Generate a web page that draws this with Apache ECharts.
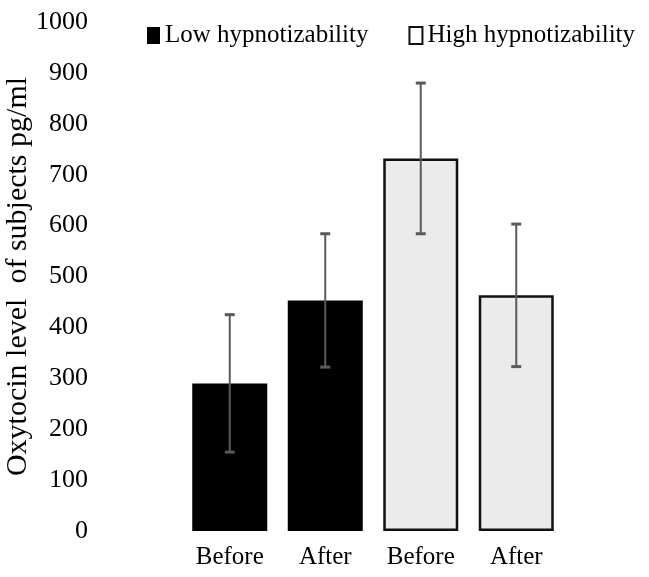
<!DOCTYPE html>
<html>
<head>
<meta charset="utf-8">
<script src="https://cdn.jsdelivr.net/npm/echarts@6/dist/echarts.min.js"></script>
<style>
  html, body { margin: 0; padding: 0; background: #fff; }
  #chart { width: 649px; height: 577px; }
</style>
</head>
<body>
<div id="chart"></div>
<script>
// Oxytocin level (pg/ml) before and after, by hypnotizability group
const categories = ['Before', 'After', 'Before', 'After'];
const lowMeans = [290, 453, null, null];
const highMeans = [null, null, 732, 463];
const means = [290, 453, 732, 463];
const errors = [135, 131, 148, 140];
const yTicks = [0, 1000, 100];

const FONT = '"Liberation Serif", "Times New Roman", serif';

const errorData = means.map((m, i) => [i, m - errors[i], m + errors[i]]);

const chart = echarts.init(document.getElementById('chart'));
chart.setOption({
  animation: false,
  backgroundColor: '#ffffff',
  grid: { left: 182, right: 85, top: 22, bottom: 46, containLabel: false, outerBoundsMode: 'none' },
  legend: {
    left: 142,
    top: 18,
    itemWidth: 13,
    itemHeight: 17,
    itemGap: 40,
    textStyle: { fontFamily: FONT, fontSize: 25, color: '#000' },
    data: [
      { name: 'Low hypnotizability', icon: 'rect', itemStyle: { color: '#000', borderWidth: 0 } },
      { name: 'High hypnotizability', icon: 'rect', itemStyle: { color: '#fff', borderColor: '#111', borderWidth: 2 } }
    ]
  },
  xAxis: {
    type: 'category',
    data: categories,
    axisLine: { show: false },
    axisTick: { show: false },
    axisLabel: { fontFamily: FONT, fontSize: 25, color: '#000', margin: 14 }
  },
  yAxis: {
    type: 'value',
    min: yTicks[0],
    max: yTicks[1],
    interval: yTicks[2],
    name: 'Oxytocin level  of subjects pg/ml',
    nameLocation: 'middle',
    nameGap: 149,
    nameMoveOverlap: false,
    nameTextStyle: { fontFamily: FONT, fontSize: 30, color: '#000' },
    axisLine: { show: false },
    axisTick: { show: false },
    splitLine: { show: false },
    axisLabel: {
      fontFamily: FONT, fontSize: 26, color: '#000', margin: 94,
      formatter: function (v) { return String(v); }
    }
  },
  series: [
    {
      name: 'Low hypnotizability',
      type: 'bar',
      data: lowMeans,
      barWidth: 75,
      barGap: '-100%',
      itemStyle: { color: '#000' }
    },
    {
      name: 'High hypnotizability',
      type: 'bar',
      data: highMeans,
      barWidth: 75,
      itemStyle: { color: '#ebebeb', borderColor: '#111', borderWidth: 2.5 }
    },
    {
      name: 'error',
      type: 'custom',
      z: 10,
      data: errorData,
      renderItem: function (params, api) {
        const x = api.value(0);
        const lo = api.coord([x, api.value(1)]);
        const hi = api.coord([x, api.value(2)]);
        const half = 5;
        const style = { stroke: '#5a5a5a', lineWidth: 2, fill: null };
        return {
          type: 'group',
          children: [
            { type: 'line', shape: { x1: lo[0], y1: lo[1], x2: hi[0], y2: hi[1] }, style: style },
            { type: 'line', shape: { x1: lo[0] - half, y1: lo[1], x2: lo[0] + half, y2: lo[1] }, style: Object.assign({}, style, { lineWidth: 3 }) },
            { type: 'line', shape: { x1: hi[0] - half, y1: hi[1], x2: hi[0] + half, y2: hi[1] }, style: Object.assign({}, style, { lineWidth: 3 }) }
          ]
        };
      }
    }
  ]
});
</script>
</body>
</html>
